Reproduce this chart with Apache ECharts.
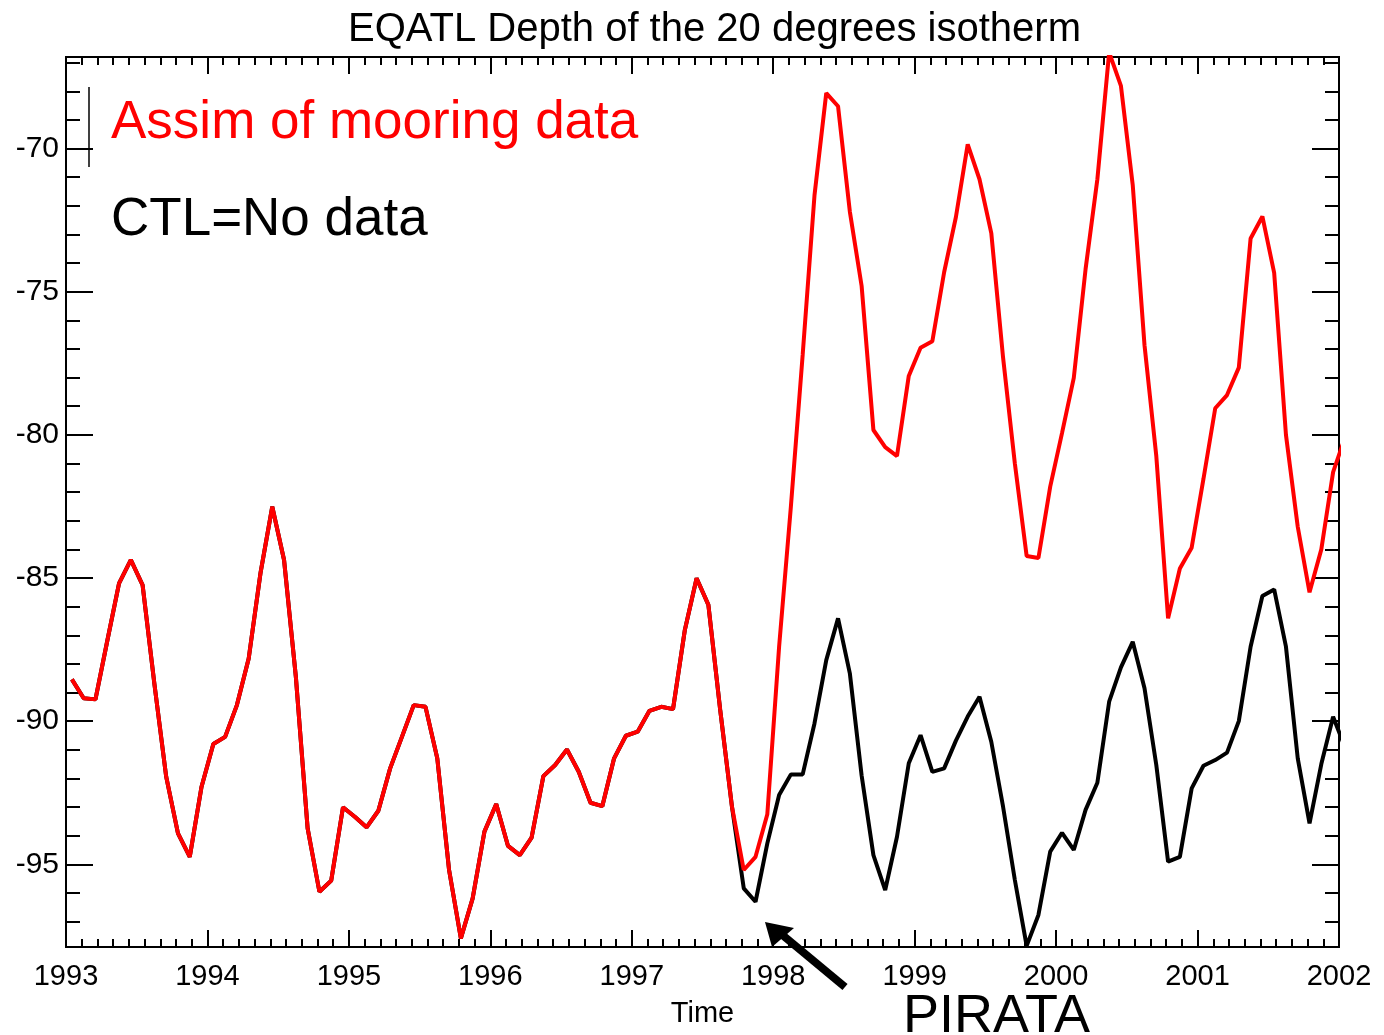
<!DOCTYPE html>
<html>
<head>
<meta charset="utf-8">
<script src="https://cdn.jsdelivr.net/npm/echarts@6/dist/echarts.min.js"></script>
<style>
    html, body { margin: 0; padding: 0; background: #fff; }
    #chart { width: 1384px; height: 1035px; }
</style>
</head>
<body>
<div id="chart"></div>
<script>
// tick labels
const years = [1993, 1994, 1995, 1996, 1997, 1998, 1999, 2000, 2001, 2002];
const yMajorTicks = [-95, -90, -85, -80, -75, -70];
const yMinorTicks = [-97, -96, -94, -93, -92, -91, -89, -88, -87, -86, -84, -83, -82, -81,
                     -79, -78, -77, -76, -74, -73, -72, -71, -69, -68, -67];
const yMin = -97.89;
const yMax = -66.8;

// monthly depth of the 20 degree isotherm, Jan 1993 onwards (last value falls just past 2002)
const assim = [
    -88.54, -89.20, -89.24, -87.20, -85.19, -84.37, -85.25, -88.70, -91.94, -93.92, -94.74, -92.29,
    -90.80, -90.55, -89.44, -87.81, -84.83, -82.51, -84.37, -88.45, -93.75, -95.96, -95.57, -93.01,
    -93.34, -93.71, -93.13, -91.65, -90.55, -89.44, -89.50, -91.30, -95.20, -97.59, -96.19, -93.86,
    -92.90, -94.36, -94.68, -94.07, -91.92, -91.53, -90.99, -91.77, -92.85, -92.97, -91.30, -90.51,
    -90.37, -89.64, -89.50, -89.58, -86.82, -85.01, -85.94, -89.60, -92.99, -95.20, -94.74, -93.25,
    -87.40, -82.50, -77.20, -71.64, -68.06, -68.52, -72.20, -74.80, -79.83, -80.43, -80.74, -77.94,
    -76.96, -76.73, -74.32, -72.39, -69.85, -71.07, -72.95, -77.30, -81.00, -84.23, -84.30, -81.81,
    -79.94, -78.01, -74.21, -71.07, -66.64, -67.81, -71.27, -76.87, -80.74, -86.41, -84.67, -83.94,
    -81.54, -79.07, -78.61, -77.65, -73.14, -72.37, -74.34, -80.00, -83.21, -85.50, -84.00, -81.30,
    -80.10
];
const ctl = [
    -88.54, -89.20, -89.24, -87.20, -85.19, -84.37, -85.25, -88.70, -91.94, -93.92, -94.74, -92.29,
    -90.80, -90.55, -89.44, -87.81, -84.83, -82.51, -84.37, -88.45, -93.75, -95.96, -95.57, -93.01,
    -93.34, -93.71, -93.13, -91.65, -90.55, -89.44, -89.50, -91.30, -95.20, -97.59, -96.19, -93.86,
    -92.90, -94.36, -94.68, -94.07, -91.92, -91.53, -90.99, -91.77, -92.85, -92.97, -91.30, -90.51,
    -90.37, -89.64, -89.50, -89.58, -86.82, -85.01, -85.94, -89.60, -92.99, -95.84, -96.31, -94.27,
    -92.58, -91.86, -91.86, -90.08, -87.87, -86.41, -88.33, -91.90, -94.68, -95.90, -94.04, -91.47,
    -90.49, -91.77, -91.65, -90.68, -89.84, -89.15, -90.72, -92.99, -95.55, -97.85, -96.77, -94.56,
    -93.90, -94.50, -93.10, -92.15, -89.32, -88.12, -87.23, -88.85, -91.53, -94.91, -94.74, -92.35,
    -91.56, -91.36, -91.10, -90.00, -87.40, -85.63, -85.40, -87.40, -91.30, -93.57, -91.50, -89.85,
    -90.90
];

(function () {
    let chart = echarts.init(document.querySelector("#chart"));
    const font = "'Liberation Sans', Arial, sans-serif";

    // mid-month positions on the year axis
    const monthPos = assim.map((v, i) => years[0] + (i + 0.5) / 12);

    const axisLine = { show: true, onZero: false, lineStyle: { color: "#000", width: 2 } };
    const tickStyle = { color: "#000", width: 2 };

    function xAxisOf(pos, labels) {
        return {
            type: "value",
            position: pos,
            min: years[0],
            max: years[years.length - 1],
            interval: 1,
            name: labels ? "Time" : "",
            nameLocation: "middle",
            nameGap: 52,
            nameTextStyle: { color: "#000", fontSize: 29, fontFamily: font },
            axisLine: axisLine,
            axisTick: { inside: true, length: 17, lineStyle: tickStyle },
            minorTick: { show: true, splitNumber: 9, length: 8, lineStyle: tickStyle },
            splitLine: { show: false },
            minorSplitLine: { show: false },
            axisLabel: {
                show: labels,
                color: "#000",
                fontSize: 29,
                fontFamily: font,
                margin: 15,
                formatter: (v) => String(v)
            }
        };
    }

    function yAxisOf(pos, ticks, len, labels) {
        return {
            type: "value",
            position: pos,
            min: yMin,
            max: yMax,
            axisLine: axisLine,
            axisTick: { inside: true, length: len, customValues: ticks, lineStyle: tickStyle },
            splitLine: { show: false },
            axisLabel: {
                show: labels,
                customValues: ticks,
                color: "#000",
                fontSize: 30,
                fontFamily: font,
                margin: 7
            }
        };
    }

    let option = {
        backgroundColor: "#fff",
        animation: false,
        title: [
            {
                text: "EQATL Depth of the 20 degrees isotherm",
                left: 343,
                top: 5,
                textStyle: { color: "#000", fontSize: 40, fontWeight: "normal", fontFamily: font }
            },
            {
                text: "Assim of mooring data",
                left: 106,
                top: 92,
                textStyle: { color: "#ff0000", fontSize: 53, fontWeight: "normal", fontFamily: font }
            },
            {
                text: "CTL=No data",
                left: 106,
                top: 189,
                textStyle: { color: "#000", fontSize: 53, fontWeight: "normal", fontFamily: font }
            }
        ],
        grid: {
            left: 66,
            right: 45,
            top: 57,
            bottom: 88,
            containLabel: false
        },
        xAxis: [xAxisOf("bottom", true), xAxisOf("top", false)],
        yAxis: [
            yAxisOf("left", yMajorTicks, 27, true),
            yAxisOf("left", yMinorTicks, 14, false),
            yAxisOf("right", yMajorTicks, 27, false),
            yAxisOf("right", yMinorTicks, 14, false)
        ],
        series: [
            {
                name: "CTL",
                type: "line",
                showSymbol: false,
                clip: true,
                data: monthPos.map((x, i) => [x, ctl[i]]),
                lineStyle: { color: "#000", width: 4 },
                itemStyle: { color: "#000" }
            },
            {
                name: "Assim",
                type: "line",
                showSymbol: false,
                clip: true,
                data: monthPos.map((x, i) => [x, assim[i]]),
                lineStyle: { color: "#ff0000", width: 4 },
                itemStyle: { color: "#ff0000" }
            }
        ],
        graphic: [
            // legend bracket
            { type: "line", shape: { x1: 89, y1: 87, x2: 89, y2: 167 }, style: { stroke: "#000", lineWidth: 1.5 } },
            // PIRATA arrow
            { type: "line", shape: { x1: 845, y1: 987, x2: 780, y2: 933 }, style: { stroke: "#000", lineWidth: 8 } },
            { type: "polygon", shape: { points: [[765, 922], [794, 928], [772, 947]] }, style: { fill: "#000" } },
            {
                type: "text",
                left: 903,
                top: 990,
                style: { text: "PIRATA", fill: "#000", font: "54px " + font }
            }
        ]
    };

    chart.setOption(option);
})();
</script>
</body>
</html>
